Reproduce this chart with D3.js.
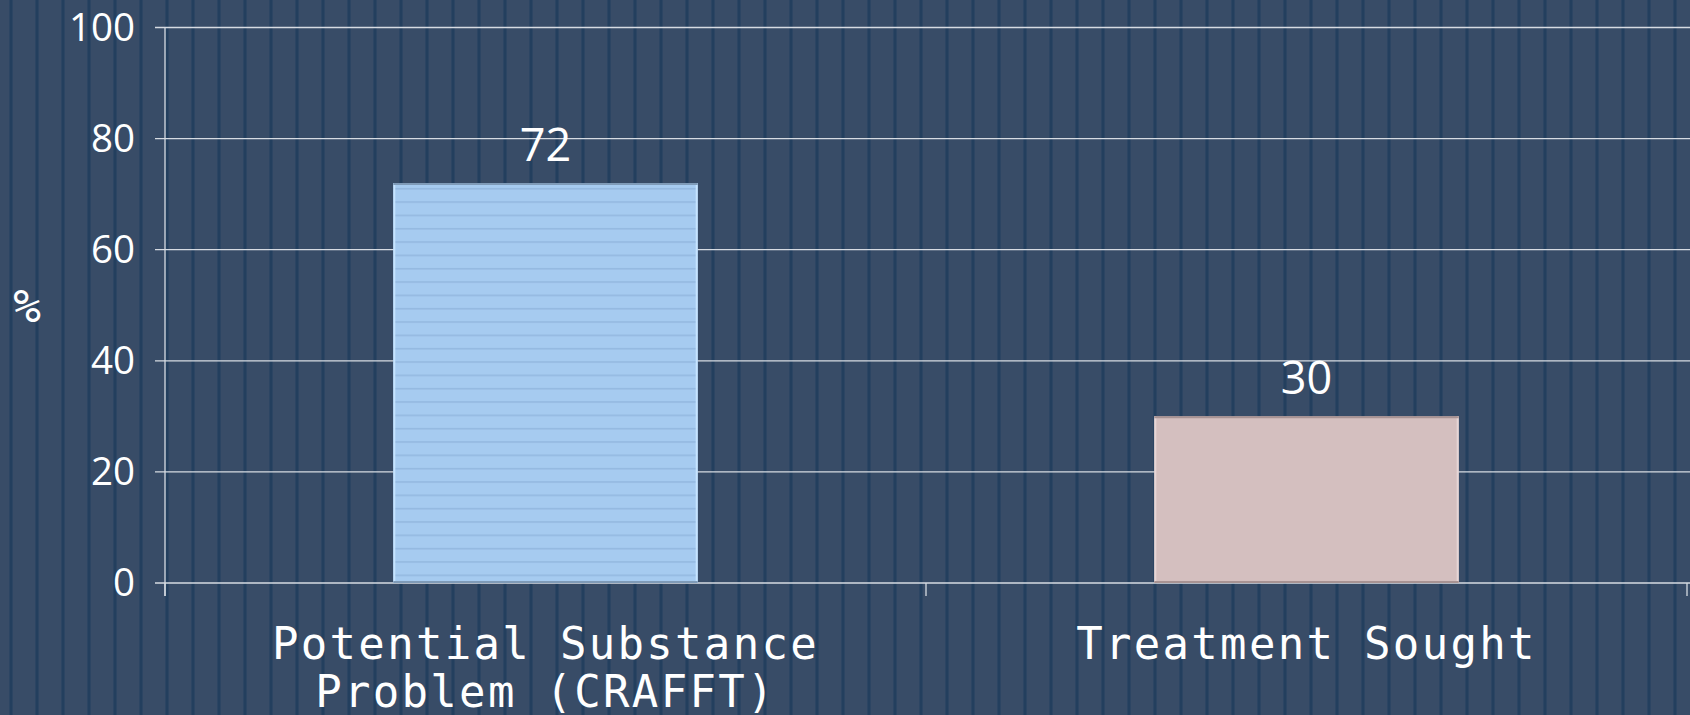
<!DOCTYPE html>
<html>
<head>
<meta charset="utf-8">
<script src="https://cdnjs.cloudflare.com/ajax/libs/d3/7.8.5/d3.min.js"></script>
<style>
  body { margin: 0; background: #384c67; overflow: hidden; }
  svg { display: block; }
</style>
</head>
<body>
<script>
// chart data
var categories = ["Potential Substance\nProblem (CRAFFT)", "Treatment Sought"];
var values = [72, 30];
var barColors = ["#a6cbf0", "#d4bfbf"];
var yTicks = [0, 20, 40, 60, 80, 100];

var width = 1690, height = 715;
var margin = { top: 27.5, right: 3, bottom: 132, left: 165 };

var svg = d3.select("body").append("svg")
  .attr("width", width)
  .attr("height", height);

var defs = svg.append("defs");

// vertical stripes of the slide background
var stripes = defs.append("pattern")
  .attr("id", "stripes")
  .attr("patternUnits", "userSpaceOnUse")
  .attr("x", 9).attr("y", 0)
  .attr("width", 26).attr("height", 10);
stripes.append("rect").attr("width", 26).attr("height", 10).attr("fill", "#384c67");
stripes.append("rect").attr("x", 0).attr("width", 1).attr("height", 10).attr("fill", "#2c4563");
stripes.append("rect").attr("x", 1).attr("width", 2).attr("height", 10).attr("fill", "#233f5e");
stripes.append("rect").attr("x", 3).attr("width", 1).attr("height", 10).attr("fill", "#2c4563");

// horizontal lines inside the blue bar
var lines = defs.append("pattern")
  .attr("id", "hlines")
  .attr("patternUnits", "userSpaceOnUse")
  .attr("x", 0).attr("y", 1.3)
  .attr("width", 10).attr("height", 13.33);
lines.append("rect").attr("width", 10).attr("height", 13.33).attr("fill", "#a6cbf0");
lines.append("rect").attr("y", 0).attr("width", 10).attr("height", 1.6).attr("fill", "#94b9e0");

svg.append("rect")
  .attr("width", width).attr("height", height)
  .attr("fill", "url(#stripes)");

var x = d3.scaleBand()
  .domain(categories)
  .range([margin.left, width - margin.right])
  .paddingInner(0.6)
  .paddingOuter(0.3);

var y = d3.scaleLinear()
  .domain([0, 100])
  .range([583, margin.top]);

// gridlines
svg.append("g")
  .selectAll("line")
  .data(yTicks)
  .enter()
  .append("line")
  .attr("x1", margin.left - 10)
  .attr("x2", width - margin.right + 3)
  .attr("y1", function (d) { return y(d); })
  .attr("y2", function (d) { return y(d); })
  .attr("stroke", "#d6dbe2")
  .attr("stroke-width", 1.3);

// y tick labels
svg.append("g")
  .selectAll("text")
  .data(yTicks)
  .enter()
  .append("text")
  .attr("x", 135)
  .attr("y", function (d) { return y(d); })
  .attr("dy", "0.35em")
  .attr("text-anchor", "end")
  .attr("font-family", "'Open Sans', sans-serif")
  .attr("font-size", 38.5)
  .attr("fill", "#ffffff")
  .text(function (d) { return d; });

// y axis line
svg.append("line")
  .attr("x1", margin.left).attr("x2", margin.left)
  .attr("y1", y(100)).attr("y2", y(0) + 13)
  .attr("stroke", "#d6dbe2").attr("stroke-width", 1.3);

// x axis ticks at band boundaries
var xEdges = [margin.left, (margin.left + width - margin.right) / 2, width - margin.right];
svg.append("g")
  .selectAll("line")
  .data(xEdges)
  .enter()
  .append("line")
  .attr("x1", function (d) { return d; })
  .attr("x2", function (d) { return d; })
  .attr("y1", y(0))
  .attr("y2", y(0) + 13)
  .attr("stroke", "#d6dbe2")
  .attr("stroke-width", 1.3);

// bars
var bars = svg.append("g")
  .selectAll("g")
  .data(values)
  .enter()
  .append("g");

bars.append("rect")
  .attr("x", function (d, i) { return x(categories[i]); })
  .attr("y", function (d) { return y(d); })
  .attr("width", x.bandwidth())
  .attr("height", function (d) { return y(0) - y(d); })
  .attr("fill", function (d, i) { return i === 0 ? "url(#hlines)" : barColors[i]; });

// bevel-ish edges: light left/right, darker top/bottom
bars.append("path")
  .attr("d", function (d, i) {
    var x0 = x(categories[i]), x1 = x0 + x.bandwidth();
    return "M" + (x0 + 1) + "," + y(d) + "V" + y(0) + "M" + (x1 - 1) + "," + y(d) + "V" + y(0);
  })
  .attr("stroke", function (d, i) { return i === 0 ? "#c6e4ff" : "#e6d6d6"; })
  .attr("stroke-width", 2);

bars.append("path")
  .attr("d", function (d, i) {
    var x0 = x(categories[i]), x1 = x0 + x.bandwidth();
    return "M" + x0 + "," + (y(d) + 1) + "H" + x1 + "M" + x0 + "," + (y(0) - 1) + "H" + x1;
  })
  .attr("stroke", function (d, i) { return i === 0 ? "#7f9bb8" : "#a89393"; })
  .attr("stroke-width", 2);

// value labels
bars.append("text")
  .attr("x", function (d, i) { return x(categories[i]) + x.bandwidth() / 2; })
  .attr("y", function (d) { return y(d) - 22; })
  .attr("text-anchor", "middle")
  .attr("font-family", "'Open Sans', sans-serif")
  .attr("font-size", 45)
  .attr("fill", "#ffffff")
  .text(function (d) { return d; });

// category labels
var catLabels = svg.append("g")
  .selectAll("text")
  .data(categories)
  .enter()
  .append("text")
  .attr("x", function (d) { return x(d) + x.bandwidth() / 2; })
  .attr("y", 659)
  .attr("text-anchor", "middle")
  .attr("font-family", "'DejaVu Sans Mono', monospace")
  .attr("font-size", 44)
  .attr("letter-spacing", 2.3)
  .attr("fill", "#ffffff");

catLabels.selectAll("tspan")
  .data(function (d) {
    var cx = x(d) + x.bandwidth() / 2;
    return d.split("\n").map(function (t) { return { t: t, cx: cx }; });
  })
  .enter()
  .append("tspan")
  .attr("x", function (d) { return d.cx; })
  .attr("dy", function (d, i) { return i === 0 ? 0 : 48; })
  .text(function (d) { return d.t; });

// y axis title
svg.append("text")
  .attr("x", 27)
  .attr("y", 306)
  .attr("dy", "0.35em")
  .attr("text-anchor", "middle")
  .attr("font-family", "'DejaVu Sans Mono', monospace")
  .attr("font-size", 46)
  .attr("fill", "#ffffff")
  .text("%");
</script>
</body>
</html>
